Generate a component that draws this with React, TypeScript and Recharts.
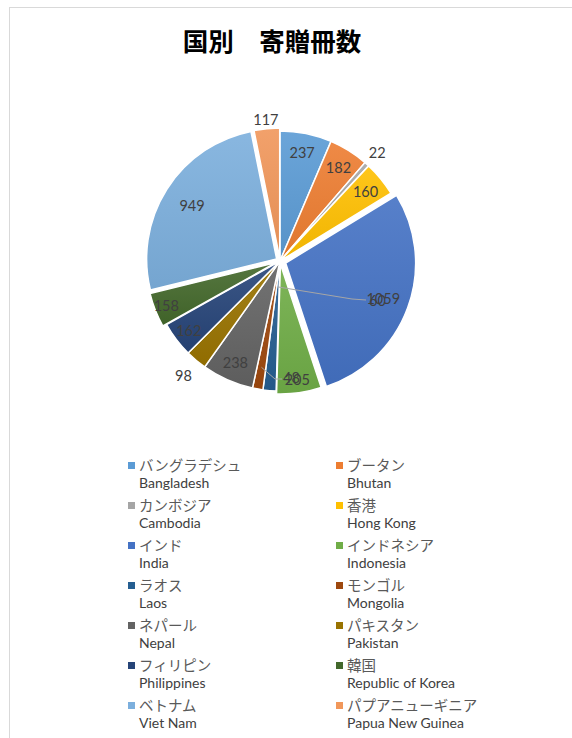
import React from 'react';
import { PieChart, Pie, Cell, Legend, Sector } from 'recharts';

// ---- data ----
const namesJa = ['バングラデシュ', 'ブータン', 'カンボジア', '香港', 'インド', 'インドネシア', 'ラオス', 'モンゴル', 'ネパール', 'パキスタン', 'フィリピン', '韓国', 'ベトナム', 'パプアニューギニア'];
const namesEn = ['Bangladesh', 'Bhutan', 'Cambodia', 'Hong Kong', 'India', 'Indonesia', 'Laos', 'Mongolia', 'Nepal', 'Pakistan', 'Philippines', 'Republic of Korea', 'Viet Nam', 'Papua New Guinea'];
const books = [237, 182, 22, 160, 1059, 205, 60, 48, 238, 98, 162, 158, 949, 117];
const title = '国別　寄贈冊数';

// ---- styles ----
const COLORS = ['#5B9BD5', '#ED7D31', '#A5A5A5', '#FFC000', '#4472C4', '#70AD47', '#255E91', '#9E480E', '#636363', '#997300', '#264478', '#43682B', '#7CAFDD', '#F1975A'];
const EXPLODE = [0, 0, 0, 0, 6, 3, 0, 0, 0, 0, 0, 4, 4, 3];
const LABEL_R = [0.85, 0.85, 1.12, 0.85, 0.8, 0.9, 0, 0, 0.85, 1.15, 0.88, 0.91, 0.77, 1.07];
const CALLOUTS: Record<number, { from: number; pts: number[][]; text: number[] }> = {
  6: { from: 0.2, pts: [[72, 38], [86, 39]], text: [89, 39] },
  7: { from: 0.83, pts: [[-5, 118], [2, 118]], text: [3, 116] },
};
const RAD = Math.PI / 180;
const JA_FONT = '"Noto Sans CJK JP", "Noto Sans", sans-serif';
const EN_FONT = 'Lato, "Open Sans", sans-serif';

const data = books.map((v, i) => ({ name: namesJa[i], en: namesEn[i], value: v }));

const mix = (hex: string, t: number) => {
  const n = parseInt(hex.slice(1), 16);
  const c = [(n >> 16) & 255, (n >> 8) & 255, n & 255].map((x) =>
    Math.round(t >= 0 ? x + (255 - x) * t : x * (1 + t))
  );
  return `rgb(${c[0]},${c[1]},${c[2]})`;
};

const polar = (cx: number, cy: number, r: number, a: number) => [cx + r * Math.cos(-a * RAD), cy + r * Math.sin(-a * RAD)];

const renderLabel = (p: any) => {
  const { cx, cy, midAngle, outerRadius, startAngle, endAngle, index, value } = p;
  const e = EXPLODE[index];
  const [ox, oy] = polar(cx, cy, e, midAngle);
  const textStyle = { fontFamily: EN_FONT, fontSize: 14.5, fill: '#404040' };
  let sector = null;
  if (e > 0) {
    sector = (
      <Sector cx={ox} cy={oy} innerRadius={0} outerRadius={outerRadius} startAngle={startAngle} endAngle={endAngle}
        fill={`url(#grad${index})`} stroke="#ffffff" strokeWidth={1.5} />
    );
  }
  const co = CALLOUTS[index];
  if (co) {
    const [sx, sy] = polar(cx, cy, co.from * outerRadius, midAngle);
    const pts = [[sx, sy], ...co.pts.map(([dx, dy]) => [cx + dx, cy + dy])];
    return (
      <g key={`l${index}`}>
        {sector}
        <polyline points={pts.map((q) => q.join(',')).join(' ')} fill="none" stroke="#a6a6a6" strokeWidth={1} />
        <text x={cx + co.text[0]} y={cy + co.text[1]} textAnchor="start" dominantBaseline="central" style={textStyle}>{value}</text>
      </g>
    );
  }
  const [tx, ty] = polar(ox, oy, LABEL_R[index] * outerRadius, midAngle);
  return (
    <g key={`l${index}`}>
      {sector}
      <text x={tx} y={ty} textAnchor="middle" dominantBaseline="central" style={textStyle}>{value}</text>
    </g>
  );
};

const LegendContent = (props: any) => {
  const payload = props.payload || [];
  const idx: number[] = (payload.length ? payload.map((q: any) => namesJa.indexOf(q.value)) : namesJa.map((_, i) => i))
    .filter((i: number) => i >= 0)
    .sort((a: number, b: number) => a - b);
  return (
    <div style={{ display: 'grid', gridTemplateColumns: '208px 208px' }}>
      {idx.map((i) => (
        <div key={i} style={{ height: 40, position: 'relative' }}>
          <div style={{ position: 'absolute', left: 0, top: 5.5, width: 7, height: 7, background: COLORS[i] }} />
          <div style={{ position: 'absolute', left: 11, top: 0, lineHeight: '18px', fontSize: 14.5, fontFamily: JA_FONT, color: '#595959', whiteSpace: 'nowrap' }}>{namesJa[i]}</div>
          <div style={{ position: 'absolute', left: 11, top: 18, lineHeight: '18px', fontSize: 14, fontFamily: EN_FONT, color: '#404040', whiteSpace: 'nowrap' }}>{namesEn[i]}</div>
        </div>
      ))}
    </div>
  );
};

export default function App() {
  return (
    <div style={{ position: 'absolute', left: 9, top: 7, width: 563, height: 731, borderTop: '1px solid #d9d9d9', borderLeft: '1px solid #d9d9d9', background: '#fff', overflow: 'hidden' }}>
      <svg width={0} height={0} style={{ position: 'absolute' }}>
        <defs>
          {COLORS.map((c, i) => (
            <linearGradient key={i} id={`grad${i}`} x1="0" y1="0" x2="0" y2="1">
              <stop offset="0%" stopColor={mix(c, 0.1)} />
              <stop offset="100%" stopColor={mix(c, -0.06)} />
            </linearGradient>
          ))}
        </defs>
      </svg>
      <div style={{ position: 'absolute', left: 0, top: 14, width: 524, textAlign: 'center', fontFamily: JA_FONT, fontWeight: 700, fontSize: 25.5, lineHeight: '36px', color: '#000' }}>{title}</div>
      <PieChart width={563} height={731} margin={{ top: 0, right: 0, bottom: 0, left: 0 }}>
        <Pie data={data} dataKey="value" nameKey="name" cx={270} cy={253} outerRadius={130} startAngle={90} endAngle={-270}
          stroke="#ffffff" strokeWidth={1.5} isAnimationActive={false} label={renderLabel} labelLine={false}>
          {data.map((d, i) => (
            <Cell key={i} fill={EXPLODE[i] > 0 ? 'transparent' : `url(#grad${i})`} stroke={EXPLODE[i] > 0 ? 'none' : '#ffffff'} />
          ))}
        </Pie>
        <Legend verticalAlign="bottom" content={<LegendContent />} wrapperStyle={{ left: 118, top: 448, width: 420, bottom: 'auto' }} />
      </PieChart>
    </div>
  );
}
